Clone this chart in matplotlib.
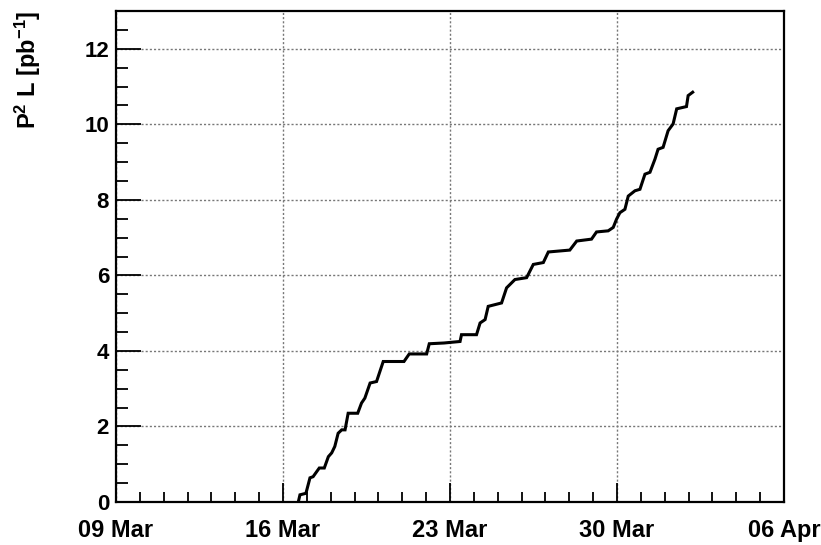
import pandas as pd
import matplotlib.pyplot as plt
import matplotlib.dates as mdates

# Integrated luminosity (P^2 L) versus time
start = pd.Timestamp('2008-03-09')
days = [7.64, 7.71, 7.96, 8.13, 8.26, 8.52, 8.73, 8.90, 9.04, 9.17,
        9.31, 9.46, 9.60, 9.73, 10.13, 10.29, 10.43, 10.65, 10.92, 11.20,
        12.07, 12.29, 13.02, 13.13, 13.75, 14.42, 14.48, 15.11, 15.26, 15.47,
        15.60, 16.16, 16.37, 16.72, 17.21, 17.49, 17.91, 18.12, 19.02, 19.31,
        19.93, 20.14, 20.63, 20.84, 20.98, 21.12, 21.33, 21.47, 21.75, 21.96,
        22.17, 22.38, 22.59, 22.72, 22.93, 23.14, 23.35, 23.50, 23.91, 23.98,
        24.17]
lumi = [0.00, 0.19, 0.23, 0.64, 0.67, 0.90, 0.90, 1.20, 1.30, 1.47,
        1.82, 1.91, 1.91, 2.35, 2.35, 2.62, 2.75, 3.15, 3.19, 3.72,
        3.72, 3.92, 3.92, 4.19, 4.21, 4.25, 4.43, 4.43, 4.74, 4.83,
        5.18, 5.27, 5.67, 5.89, 5.94, 6.29, 6.34, 6.62, 6.67, 6.91,
        6.96, 7.15, 7.18, 7.27, 7.49, 7.66, 7.75, 8.10, 8.24, 8.28,
        8.68, 8.73, 9.08, 9.34, 9.39, 9.83, 10.01, 10.41, 10.47, 10.76,
        10.85]
tick_dates = ['2008-03-09', '2008-03-16', '2008-03-23', '2008-03-30', '2008-04-06']

times = start + pd.to_timedelta(days, unit='D')

plt.rcParams['font.family'] = ['Liberation Sans', 'DejaVu Sans']
plt.rcParams['font.weight'] = 'bold'
plt.rcParams['mathtext.default'] = 'regular'

fig = plt.figure(figsize=(8.21, 5.45), dpi=100)
ax = fig.add_axes([0.1413, 0.0789, 0.8137, 0.9009])

ax.plot(times, lumi, color='black', linewidth=2.2, solid_joinstyle='miter')

ax.set_xlim(pd.Timestamp(tick_dates[0]), pd.Timestamp(tick_dates[-1]))
ax.set_ylim(0, 13)

ax.set_xticks(pd.to_datetime(tick_dates))
ax.xaxis.set_major_formatter(mdates.DateFormatter('%d %b'))
ax.xaxis.set_minor_locator(mdates.DayLocator())
ax.set_yticks([0, 2, 4, 6, 8, 10, 12])
ax.set_yticks([i * 0.5 for i in range(27)], minor=True)

ax.grid(True, which='major', color='#777777', linestyle=(0, (1.5, 1.5)), linewidth=1.0)

ax.tick_params(axis='x', which='major', direction='in', length=14, width=1.3, labelsize=17, pad=12)
ax.tick_params(axis='x', which='minor', direction='in', length=7, width=1.3)
ax.tick_params(axis='y', which='major', direction='in', length=18, width=1.3, labelsize=16, pad=5)
ax.tick_params(axis='y', which='minor', direction='in', length=8.5, width=1.3)

for s in ax.spines.values():
    s.set_linewidth(1.6)

ax.set_ylabel('P$^{2}$ L [pb$^{-1}$]', fontsize=17, fontweight='bold', loc='top', labelpad=30)

fig.savefig('out.png', dpi=100)
